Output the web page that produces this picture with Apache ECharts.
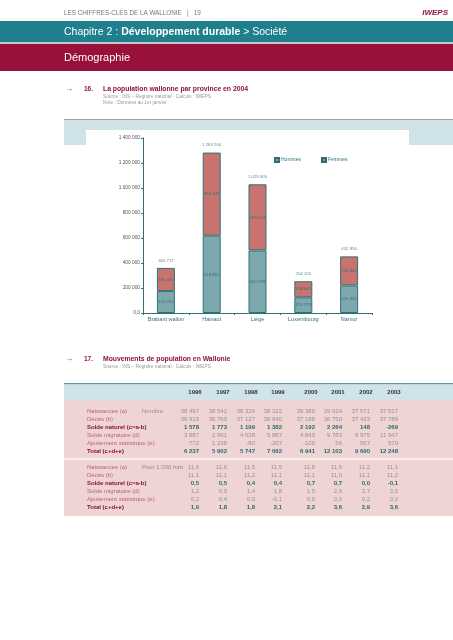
<!DOCTYPE html>
<html>
<head>
<meta charset="utf-8">
<script src="https://cdn.jsdelivr.net/npm/echarts@6/dist/echarts.min.js"></script>
<style>html,body{margin:0;padding:0;background:#fff}#c{width:453px;height:640px}</style>
</head>
<body>
<div id="c"></div>
<script>
// ---- Chart 16 data ----
const categories = ['Brabant wallon', 'Hainaut', 'Liège', 'Luxembourg', 'Namur'];
const hommes = [175247, 618867, 500578, 125279, 220431];
const femmes = [185470, 664333, 529027, 128841, 232425];
const totals = [360717, 1283200, 1029605, 254120, 452856];
const seriesNames = ['Hommes', 'Femmes'];

// ---- Table 17 data ----
const years = ['1996', '1997', '1998', '1999', '2000', '2001', '2002', '2003'];
const rowLabels = ['Naissances (a)', 'Décès (b)', 'Solde naturel (c=a-b)', 'Solde migratoire (d)', 'Ajustement statistique (e)', 'Total (c+d+e)'];
const boldRows = [false, false, true, false, false, true];
const units = ['Nombre', 'Pour 1 000 hab.'];
const naissancesN = [38497, 38542, 38326, 38322, 39380, 39014, 37571, 37517];
const decesN = [36919, 36769, 37127, 36940, 37188, 36750, 37423, 37786];
const soldeNatN = [1578, 1773, 1199, 1382, 2192, 2264, 148, -269];
const soldeMigN = [3887, 2891, 4628, 5887, 4849, 9783, 8975, 11947];
const ajustN = [772, 1238, -80, -207, -100, 56, 567, 570];
const totalN = [6237, 5902, 5747, 7062, 6941, 12103, 9690, 12248];
const naissancesR = [11.6, 11.6, 11.5, 11.5, 11.8, 11.6, 11.2, 11.1];
const decesR = [11.1, 11.1, 11.2, 11.1, 11.1, 11.0, 11.1, 11.2];
const soldeNatR = [0.5, 0.5, 0.4, 0.4, 0.7, 0.7, 0.0, -0.1];
const soldeMigR = [1.2, 0.9, 1.4, 1.8, 1.5, 2.9, 2.7, 3.5];
const ajustR = [0.2, 0.4, 0.0, -0.1, 0.0, 0.0, 0.2, 0.2];
const totalR = [1.9, 1.8, 1.8, 2.1, 2.2, 3.6, 2.9, 3.6];

const F = "'Liberation Sans', Arial, sans-serif";
const FN = "'Liberation Sans Narrow', 'Liberation Sans', Arial, sans-serif";
const TEAL = '#2d7177';
const MAROON = '#8f1340';

function fmtInt(v) {
  const s = Math.abs(v).toString().replace(/\B(?=(\d{3})+(?!\d))/g, ' ');
  return (v < 0 ? '-' : '') + s;
}
function fmtDec(v) { return v.toFixed(1).replace('.', ','); }

const g = [];
function txt(x, y, text, o) {
  o = o || {};
  let st;
  if (o.font) {
    st = { text: text, fill: o.fill, font: o.font, align: o.align || 'left', verticalAlign: 'middle' };
  } else {
    st = {
      text: text, fill: o.fill || '#888', fontSize: o.size || 6,
      fontFamily: o.family || F, fontWeight: o.weight || 'normal', fontStyle: o.style || 'normal',
      align: o.align || 'left', verticalAlign: 'middle', rich: o.rich
    };
  }
  g.push({ type: 'text', x: x, y: y, z: 5, style: st });
}
function rect(x, y, w, h, fill, z) {
  g.push({ type: 'rect', z: z === undefined ? 0 : z, shape: { x: x, y: y, width: w, height: h }, style: { fill: fill } });
}

// page header
txt(64, 13, 'LES CHIFFRES-CLÉS DE LA WALLONIE   |   19', { fill: '#777', size: 6.3 });
txt(448, 13, 'IWEPS', { fill: MAROON, size: 8, weight: 'bold', style: 'italic', align: 'right' });
rect(0, 21, 453, 21, '#1f7f8d');
rect(0, 42, 453, 2, '#c9c9c9');
rect(0, 44, 453, 27, '#97113b');
txt(64, 32, '{n|Chapitre 2 : }{b|Développement durable}{n| > Société}', {
  fill: '#fff', size: 10.5,
  rich: { n: { fill: '#fff', fontSize: 10.5, fontFamily: F }, b: { fill: '#fff', fontSize: 10.5, fontFamily: F, fontWeight: 'bold' } }
});
txt(64, 58, 'Démographie', { fill: '#fff', font: "normal normal 11px 'Liberation Sans', Arial, sans-serif" });

// section 16 title
txt(65, 89, '→', { fill: '#a0154a', size: 8 });
txt(84, 89, '16.', { fill: MAROON, size: 6.5, weight: 'bold' });
txt(103, 89, 'La population wallonne par province en 2004', { fill: MAROON, size: 6.8, weight: 'bold' });
txt(103, 96.5, 'Source : INS – Registre national - Calculs : IWEPS', { fill: '#9a9a9a', size: 4.8 });
txt(103, 103, 'Note : Données au 1er janvier', { fill: '#9a9a9a', size: 4.8 });
rect(64, 119, 389, 1, '#b49aa4');
rect(64, 120, 389, 25, '#cfe2e7');
rect(86, 130, 323, 16, '#ffffff');

// section 17 title
txt(65, 359, '→', { fill: '#a0154a', size: 8 });
txt(84, 359, '17.', { fill: MAROON, size: 6.5, weight: 'bold' });
txt(103, 359, 'Mouvements de population en Wallonie', { fill: MAROON, size: 6.8, weight: 'bold' });
txt(103, 367, 'Source : INS – Registre national - Calculs : IWEPS', { fill: '#9a9a9a', size: 4.8 });

// table
rect(64, 383, 389, 1.5, '#5c9ba4');
rect(64, 384.5, 389, 15.5, '#cfe3e8');
rect(64, 400, 389, 116, '#efd4d4');
rect(64, 458.5, 389, 1.2, '#ffffff');
const colCenters = [195, 223, 251, 278, 311, 338, 366, 394];
years.forEach((y, i) => txt(colCenters[i], 392, y, { fill: '#333', size: 6, weight: 'bold', family: FN, align: 'center' }));
const blocks = [
  { unit: units[0], rows: [naissancesN, decesN, soldeNatN, soldeMigN, ajustN, totalN], fmt: fmtInt, y0: 411 },
  { unit: units[1], rows: [naissancesR, decesR, soldeNatR, soldeMigR, ajustR, totalR], fmt: fmtDec, y0: 467 }
];
const rowStep = 8;
blocks.forEach(b => {
  txt(142, b.y0, b.unit, { fill: '#9a8a8a', size: 6, family: FN });
  b.rows.forEach((vals, r) => {
    const y = b.y0 + r * rowStep;
    const bold = boldRows[r];
    txt(87, y, rowLabels[r], { fill: bold ? '#8a1038' : '#c0607a', size: 6, family: FN, weight: bold ? 'bold' : 'normal' });
    vals.forEach((v, c) => {
      txt(colCenters[c] + 4, y, b.fmt(v), { fill: bold ? '#2a6a70' : '#9a9090', size: 6, family: FN, weight: bold ? 'bold' : 'normal', align: 'right' });
    });
  });
});

const chart = echarts.init(document.getElementById('c'), null, { renderer: 'canvas' });
chart.setOption({
  animation: false,
  backgroundColor: '#ffffff',
  graphic: { elements: g },
  legend: {
    data: seriesNames, left: 269, top: 152, itemWidth: 4, itemHeight: 4, itemGap: 20,
    icon: 'rect',
    textStyle: { fontSize: 5, color: TEAL, fontFamily: F, padding: [0, 0, 0, -3] }
  },
  grid: { left: 143, right: 81, top: 138, bottom: 327, containLabel: false },
  xAxis: {
    type: 'category', data: categories,
    axisLine: { lineStyle: { color: TEAL, width: 1 } },
    axisTick: { show: true, length: 2, lineStyle: { color: TEAL } },
    axisLabel: { interval: 0, fontSize: 5.5, color: TEAL, fontFamily: F, margin: 3 }
  },
  yAxis: {
    type: 'value', min: 0, max: 1400000, interval: 200000,
    splitLine: { show: false },
    axisLine: { show: true, lineStyle: { color: TEAL, width: 1 } },
    axisTick: { show: true, length: 2, lineStyle: { color: TEAL } },
    axisLabel: { fontSize: 4.8, color: '#555', fontFamily: F, margin: 3,
      formatter: v => v === 0 ? '0,0' : fmtInt(v) }
  },
  series: [
    {
      name: seriesNames[0], type: 'bar', stack: 'p', barWidth: 18, data: hommes,
      itemStyle: { color: '#7da8ad', borderColor: TEAL, borderWidth: 1 },
      label: { show: true, position: 'inside', fontSize: 4.3, color: TEAL, fontFamily: F, formatter: p => fmtInt(p.value) }
    },
    {
      name: seriesNames[1], type: 'bar', stack: 'p', barWidth: 18, data: femmes,
      itemStyle: { color: '#c9736f', borderColor: TEAL, borderWidth: 1 },
      label: { show: true, position: 'inside', fontSize: 4.3, color: TEAL, fontFamily: F, formatter: p => fmtInt(p.value) }
    },
    {
      name: 'Total', type: 'scatter', data: totals, symbolSize: 1,
      itemStyle: { color: 'rgba(0,0,0,0)' },
      label: { show: true, position: 'top', distance: 5, fontSize: 4.3, color: TEAL, fontFamily: F, formatter: p => fmtInt(p.value) }
    }
  ]
});
</script>
</body>
</html>
